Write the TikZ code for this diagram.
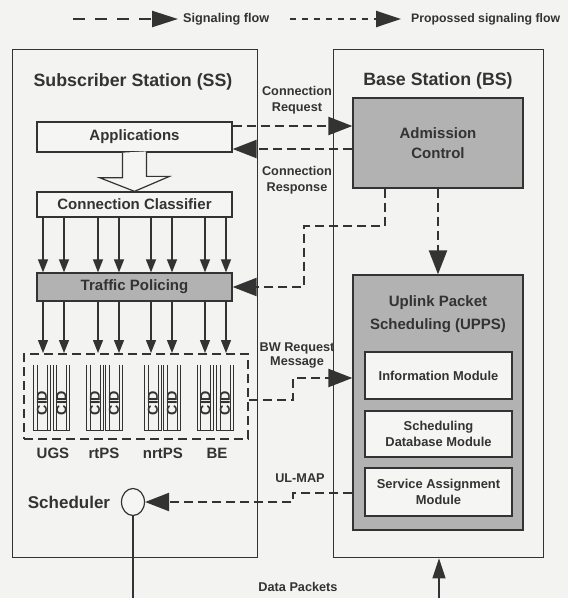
\documentclass[tikz,border=0pt]{standalone}
\usepackage{fontspec}
\usepackage{graphicx}
\setmainfont{Liberation Sans}
\usetikzlibrary{arrows.meta,shapes.geometric}

\definecolor{ink}{HTML}{333333}
\definecolor{shade}{HTML}{B2B2B2}
\definecolor{paper}{HTML}{F3F3F1}
\definecolor{panel}{HTML}{F5F5F3}

\newcommand{\fsz}[1]{\fontsize{#1}{#1}\selectfont}

\tikzset{
  frame/.style={draw=ink, line width=1.4pt, anchor=north west, inner sep=0pt},
  box/.style={draw=ink, line width=1.3pt, fill=panel, inner sep=0pt, align=center},
  graybox/.style={box, fill=shade},
  sig/.style={draw=ink, line width=2.3pt, dash pattern=on 9pt off 5pt},
  bighead/.style={-{Triangle[length=24pt,width=18pt]}},
  smallhead/.style={-{Triangle[length=13pt,width=10pt]}},
  feed/.style={draw=ink, line width=1.2pt, smallhead},
  lbl/.style={font=\bfseries\fontsize{12.7}{16}\selectfont, text=ink, align=center},
}

\begin{document}
\begin{tikzpicture}[x=1pt, y=-1pt, font=\bfseries, text=ink]
  % canvas
  \fill[paper] (0,0) rectangle (568,598);
  \useasboundingbox (0,0) rectangle (568,598);

  % legend
  \coordinate (lg1) at (73,19);
  \coordinate (lg2) at (178,19);
  \coordinate (lg3) at (290,19);
  \coordinate (lg4) at (401,19);
  \draw[draw=ink, line width=2.4pt, dash pattern=on 12pt off 10pt,
        -{Triangle[length=26pt,width=16pt]}] (lg1) -- (lg2);
  \node[lbl, anchor=west, inner sep=0pt] (lgt1) at (183,19) {Signaling flow};
  \draw[draw=ink, line width=2.4pt, dash pattern=on 6pt off 6pt,
        -{Triangle[length=25pt,width=16pt]}] (lg3) -- (lg4);
  \node[lbl, anchor=west, inner sep=0pt, font=\bfseries\fsz{12.3}] (lgt2) at (411,19)
       {Propossed signaling flow};

  % station frames
  \node[frame, minimum width=245pt, minimum height=508pt] (ss) at (12,49) {};
  \node[frame, minimum width=210pt, minimum height=508pt] (bs) at (333,49) {};
  \node[font=\bfseries\fsz{17.8}] (sstitle) at (133,82) {Subscriber Station (SS)};
  \node[font=\bfseries\fsz{17.8}] (bstitle) at (438,81) {Base Station (BS)};

  % subscriber station blocks
  \node[box, minimum width=195pt, minimum height=30pt, font=\bfseries\fsz{15}]
       (app) at (134.5,137) {Applications};
  \node[box, minimum width=195pt, minimum height=25pt, font=\bfseries\fsz{15}]
       (cc) at (134.5,204.5) {Connection Classifier};
  \node[graybox, minimum width=195pt, minimum height=28pt, font=\bfseries\fsz{15}]
       (tp) at (134.5,287) {Traffic Policing};

  % hollow arrow from the applications to the classifier
  \draw[draw=ink, line width=1.2pt, fill=panel, line join=miter]
    (app.south) ++(-12,0) -- ++(0,25) -- ++(-23,0) -- (cc.north)
    -- ++(35,-15) -- ++(-23,0) -- ++(0,-25);

  % per-flow arrows
  \foreach \i/\x in {1/43,2/64,3/98,4/119,5/151,6/172,7/205,8/226}
    \coordinate (a\i) at (\x,0);
  \foreach \i in {1,...,8}
    \draw[feed] (cc.south -| a\i) -- (tp.north -| a\i);

  % queue area
  \node[draw=ink, line width=2pt, dash pattern=on 9pt off 5pt,
        anchor=north west, minimum width=224pt, minimum height=85pt,
        inner sep=0pt] (qbox) at (23,353) {};
  \foreach \i in {1,...,8}
    \draw[feed] (tp.south -| a\i) -- (qbox.north -| a\i);

  % CID queues
  \foreach \i/\x in {1/42,2/61.5,3/95,4/114,5/153,6/172,7/205.5,8/225}{
    \node[minimum width=16pt, minimum height=65pt, inner sep=0pt] (q\i) at (\x,397.5) {};
    \draw[draw=ink, line width=1pt]
      (q\i.north west) -- (q\i.south west) -- (q\i.south east) -- (q\i.north east);
    \draw[draw=ink, line width=1pt]
      ([xshift=3.2pt]q\i.north west) -- ([xshift=3.2pt]q\i.south west);
    \draw[draw=ink, line width=1pt]
      ([xshift=-3.2pt]q\i.north east) -- ([xshift=-3.2pt]q\i.south east);
    \node[inner sep=0pt, font=\bfseries\fsz{14.3}] (cid\i) at (\x,403) {\rotatebox{90}{CID}};
  }
  \node[font=\bfseries\fsz{15}] (ugs)   at (53,453)  {UGS};
  \node[font=\bfseries\fsz{15}] (rtps)  at (104,453) {rtPS};
  \node[font=\bfseries\fsz{15}] (nrtps) at (163,453) {nrtPS};
  \node[font=\bfseries\fsz{15}] (be)    at (217,453) {BE};

  % scheduler
  \node[font=\bfseries\fsz{17}] (schl) at (69,502) {Scheduler};
  \node[ellipse, draw=ink, line width=1.2pt, fill=panel, minimum width=23pt,
        minimum height=27pt, inner sep=0pt] (sch) at (133,502) {};
  \coordinate (dout) at (133,598);
  \draw[draw=ink, line width=1.2pt] (sch.south) -- (dout);

  % base station blocks
  \node[graybox, minimum width=170pt, minimum height=90pt,
        font=\bfseries\fontsize{15}{20}\selectfont] (ac) at (438,143)
       {Admission\\Control};
  \node[graybox, minimum width=170pt, minimum height=255pt] (upps) at (438,402.5) {};
  \node[align=center, font=\bfseries\fontsize{15}{23.5}\selectfont] (uppst) at (438,314)
       {Uplink Packet\\Scheduling (UPPS)};
  \node[box, minimum width=147pt, minimum height=47pt, font=\bfseries\fsz{12.9}]
       (im) at (438.5,375.5) {Information Module};
  \node[box, minimum width=147pt, minimum height=46pt,
        font=\bfseries\fontsize{12.9}{16}\selectfont] (sdm) at (438.5,434)
       {Scheduling\\Database Module};
  \node[box, minimum width=147pt, minimum height=48pt,
        font=\bfseries\fontsize{12.9}{16}\selectfont] (sam) at (438.5,492)
       {Service Assignment\\Module};

  % signaling between the stations
  \coordinate (req)  at (0,126);
  \coordinate (resp) at (0,149);
  \draw[sig, bighead] (app.east |- req) -- (ac.west |- req);
  \draw[sig, bighead] (ac.west |- resp) -- (app.east |- resp);
  \node[lbl] (reqt) at (297,100) {Connection\\Request};
  \node[lbl] (respt) at (297,180) {Connection\\Response};

  \coordinate (k1) at (385,226);
  \coordinate (k2) at (304,226);
  \draw[sig, bighead] (ac.south -| k1) -- (k1) -- (k2) -- (k2 |- tp.east) -- (tp.east);

  \draw[sig, bighead] (ac.south) -- (upps.north);

  \coordinate (bw1) at (293,400);
  \coordinate (bw2) at (293,378);
  \draw[sig, bighead] (qbox.east |- bw1) -- (bw1) -- (bw2) -- (bw2 -| upps.west);
  \node[lbl, font=\bfseries\fontsize{12.7}{14}\selectfont] (bwt) at (297,355)
       {BW Request\\Message};

  \coordinate (ul1) at (293,493);
  \draw[sig, bighead] (upps.west |- ul1) -- (ul1) -- (ul1 |- sch.east) -- (sch.east);
  \node[lbl] (ult) at (300,478) {UL-MAP};

  % data path into the base station
  \coordinate (din) at (439,598);
  \draw[draw=ink, line width=1.2pt, -{Triangle[length=20pt,width=13pt]}]
    (din) -- (din |- bs.south);
  \node[lbl] (dpt) at (298,587) {Data Packets};
\end{tikzpicture}
\end{document}
